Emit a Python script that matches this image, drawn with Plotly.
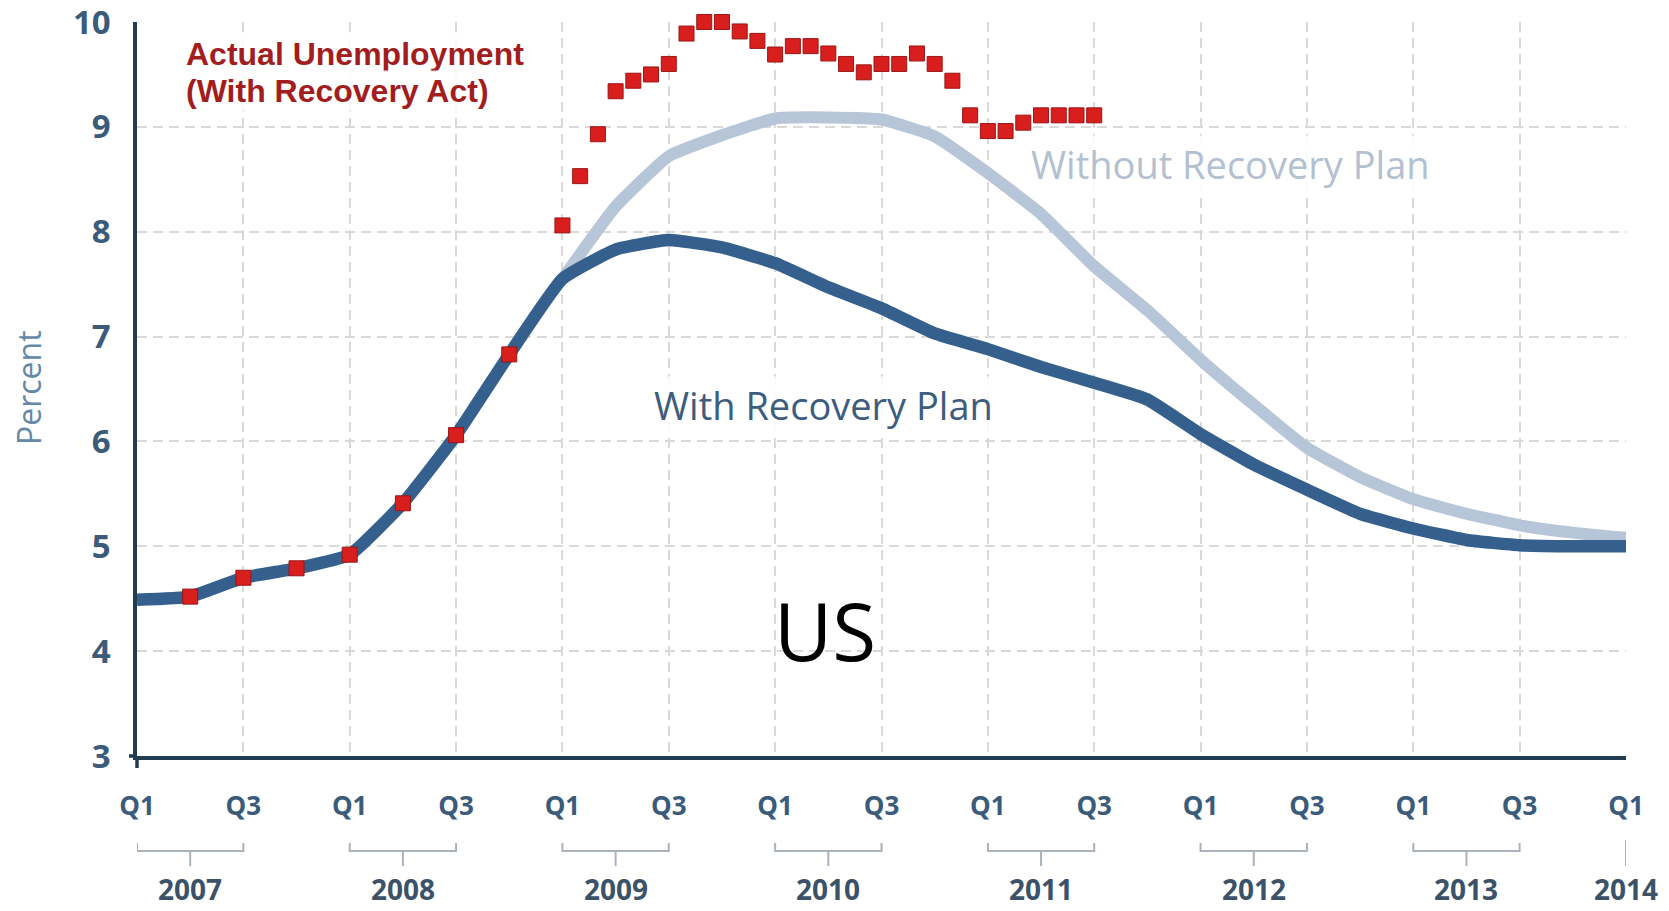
import plotly.graph_objects as go

# ---- data -------------------------------------------------------------
# quarter positions expressed in fractional years, 2007Q1 .. 2014Q1
quarter_pos = [2007 + 0.25 * i for i in range(29)]

# projected unemployment rate with the recovery plan (percent), 2007Q1..2014Q1
with_plan = [4.49, 4.52, 4.70, 4.79, 4.92, 5.41, 6.06, 6.83,
             7.55, 7.83, 7.92, 7.85, 7.70, 7.47, 7.27, 7.03,
             6.88, 6.71, 6.56, 6.40, 6.07, 5.78, 5.54, 5.31,
             5.17, 5.06, 5.01, 5.00, 5.00]

# projected rate without the recovery plan, 2009Q1..2014Q1
without_pos = quarter_pos[8:]
without_plan = [7.55, 8.24, 8.72, 8.92, 9.08, 9.09, 9.07, 8.91,
                8.56, 8.17, 7.67, 7.25, 6.78, 6.35, 5.94, 5.66,
                5.45, 5.31, 5.20, 5.13, 5.08]

# actual unemployment: quarterly 2007Q2..2008Q4, then monthly Jan 2009..Jul 2011
actual_q_pos = quarter_pos[1:8]
actual_q = [4.52, 4.70, 4.79, 4.92, 5.41, 6.06, 6.83]
actual_m_pos = [2009 + m / 12 for m in range(31)]
actual_m = [8.06, 8.53, 8.93, 9.34, 9.44, 9.50, 9.60, 9.89, 10.0, 10.0,
            9.91, 9.82, 9.69, 9.77, 9.77, 9.70, 9.60, 9.52, 9.60, 9.60,
            9.70, 9.60, 9.44, 9.11, 8.96, 8.96, 9.04, 9.11, 9.11, 9.11, 9.11]

x_ticks = [2007 + 0.5 * k for k in range(15)]
x_tick_text = ["Q1" if k % 2 == 0 else "Q3" for k in range(15)]
y_ticks = [3, 4, 5, 6, 7, 8, 9, 10]
years = [2007, 2008, 2009, 2010, 2011, 2012, 2013, 2014]

# ---- geometry helpers -------------------------------------------------
W, H = 1669, 911
ML, MR, MT, MB = 137, 43, 22, 155
PW, PH = W - ML - MR, H - MT - MB


def px_x(px):
    return (px - ML) / PW


def px_y(py):
    return (H - MB - py) / PH


DARK = "#35608e"
LIGHT = "#b7c5d8"
RED = "#d91e1e"
RED_EDGE = "#9a1515"
AXIS = "#223c52"
TICK = "#3b5b7a"
GRID = "#d9d9d9"

fig = go.Figure()

fig.add_trace(go.Scatter(
    x=without_pos, y=without_plan, mode="lines",
    line=dict(color=LIGHT, width=12, shape="spline", smoothing=0.4),
    hoverinfo="skip", showlegend=False))

fig.add_trace(go.Scatter(
    x=quarter_pos, y=with_plan, mode="lines",
    line=dict(color=DARK, width=12.5, shape="spline", smoothing=0.4),
    hoverinfo="skip", showlegend=False))

fig.add_trace(go.Scatter(
    x=actual_q_pos + actual_m_pos, y=actual_q + actual_m, mode="markers",
    marker=dict(symbol="square", size=15, color=RED,
                line=dict(color=RED_EDGE, width=1)),
    cliponaxis=False, hoverinfo="skip", showlegend=False))

fig.update_xaxes(
    range=[2007, 2014], tickmode="array", tickvals=x_ticks, ticktext=x_tick_text,
    showgrid=True, gridcolor=GRID, gridwidth=1.5, griddash="10px,6px",
    showline=True, linecolor=AXIS, linewidth=3.5, ticks="", zeroline=False,
    tickfont=dict(family="Open Sans", size=26, color=TICK, weight="bold"),
    ticklabelstandoff=24, ticklabeloverflow="allow", automargin=False)

fig.update_yaxes(
    range=[3, 10.0001], tickmode="array", tickvals=y_ticks,
    showgrid=True, gridcolor=GRID, gridwidth=1.5, griddash="10px,6px",
    showline=True, linecolor=AXIS, linewidth=3.5, ticks="", zeroline=False,
    tickfont=dict(family="Open Sans", size=33, color=TICK, weight="bold"),
    ticklabelstandoff=16, ticklabeloverflow="allow", automargin=False)

annotations = []


def label(text, left_px, center_py, size, color, family, bold=False, bg=None,
          xanchor="left"):
    annotations.append(dict(
        text=text, xref="paper", yref="paper",
        x=px_x(left_px), y=px_y(center_py), xanchor=xanchor, yanchor="middle",
        showarrow=False, borderpad=2,
        bgcolor=bg if bg else "rgba(0,0,0,0)",
        font=dict(family=family, size=size, color=color,
                  weight="bold" if bold else "normal")))


label("Actual Unemployment", 183, 54, 32, "#a21e1e", "Liberation Sans", bold=True,
      bg="rgba(255,255,255,0.85)")
label("(With Recovery Act)", 183, 91, 32, "#a21e1e", "Liberation Sans", bold=True,
      bg="rgba(255,255,255,0.85)")
label("Without Recovery Plan", 1028, 164, 38, "#b3c0cf", "Open Sans",
      bg="rgba(255,255,255,0.85)")
label("With Recovery Plan", 651, 405, 38, "#3d5c7e", "Open Sans",
      bg="rgba(255,255,255,0.85)")
label("US", 825, 629, 80, "#000000", "Open Sans", xanchor="center")

annotations.append(dict(
    text="Percent", xref="paper", yref="paper", x=px_x(28), y=px_y(388),
    xanchor="center", yanchor="middle", textangle=-90, showarrow=False,
    font=dict(family="Open Sans", size=32, color="#6588a6")))

for yr in years:
    annotations.append(dict(
        text=str(yr), xref="x", yref="paper",
        x=yr + 0.25 if yr < 2014 else yr, y=px_y(910),
        xanchor="center", yanchor="bottom", showarrow=False,
        font=dict(family="Open Sans", size=28, color="#3b5268", weight="bold")))

# year brackets below the quarter labels
BR = "#aab3bc"
shapes = []
y_top, y_mid, y_bot = px_y(843), px_y(851), px_y(866)
for yr in years:
    if yr < 2014:
        shapes.append(dict(
            type="path", xref="x", yref="paper",
            path=f"M {yr},{y_top} L {yr},{y_mid} L {yr + 0.5},{y_mid} L {yr + 0.5},{y_top}",
            line=dict(color=BR, width=2)))
        shapes.append(dict(
            type="line", xref="x", yref="paper",
            x0=yr + 0.25, x1=yr + 0.25, y0=y_mid, y1=y_bot,
            line=dict(color=BR, width=2)))
    else:
        shapes.append(dict(
            type="line", xref="x", yref="paper",
            x0=yr, x1=yr, y0=px_y(840), y1=y_bot,
            line=dict(color=BR, width=2)))

# short extensions of the axis lines past their crossing point
shapes.append(dict(type="line", xref="paper", yref="paper",
                   x0=0, x1=0, y0=0, y1=px_y(768),
                   line=dict(color=AXIS, width=3.5)))
shapes.append(dict(type="line", xref="paper", yref="paper",
                   x0=px_x(129), x1=0, y0=0, y1=0,
                   line=dict(color=AXIS, width=3.5)))

fig.update_layout(
    width=W, height=H,
    margin=dict(l=ML, r=MR, t=MT, b=MB, autoexpand=False),
    paper_bgcolor="white", plot_bgcolor="white",
    annotations=annotations, shapes=shapes,
    showlegend=False)

fig.write_html("out.html")
